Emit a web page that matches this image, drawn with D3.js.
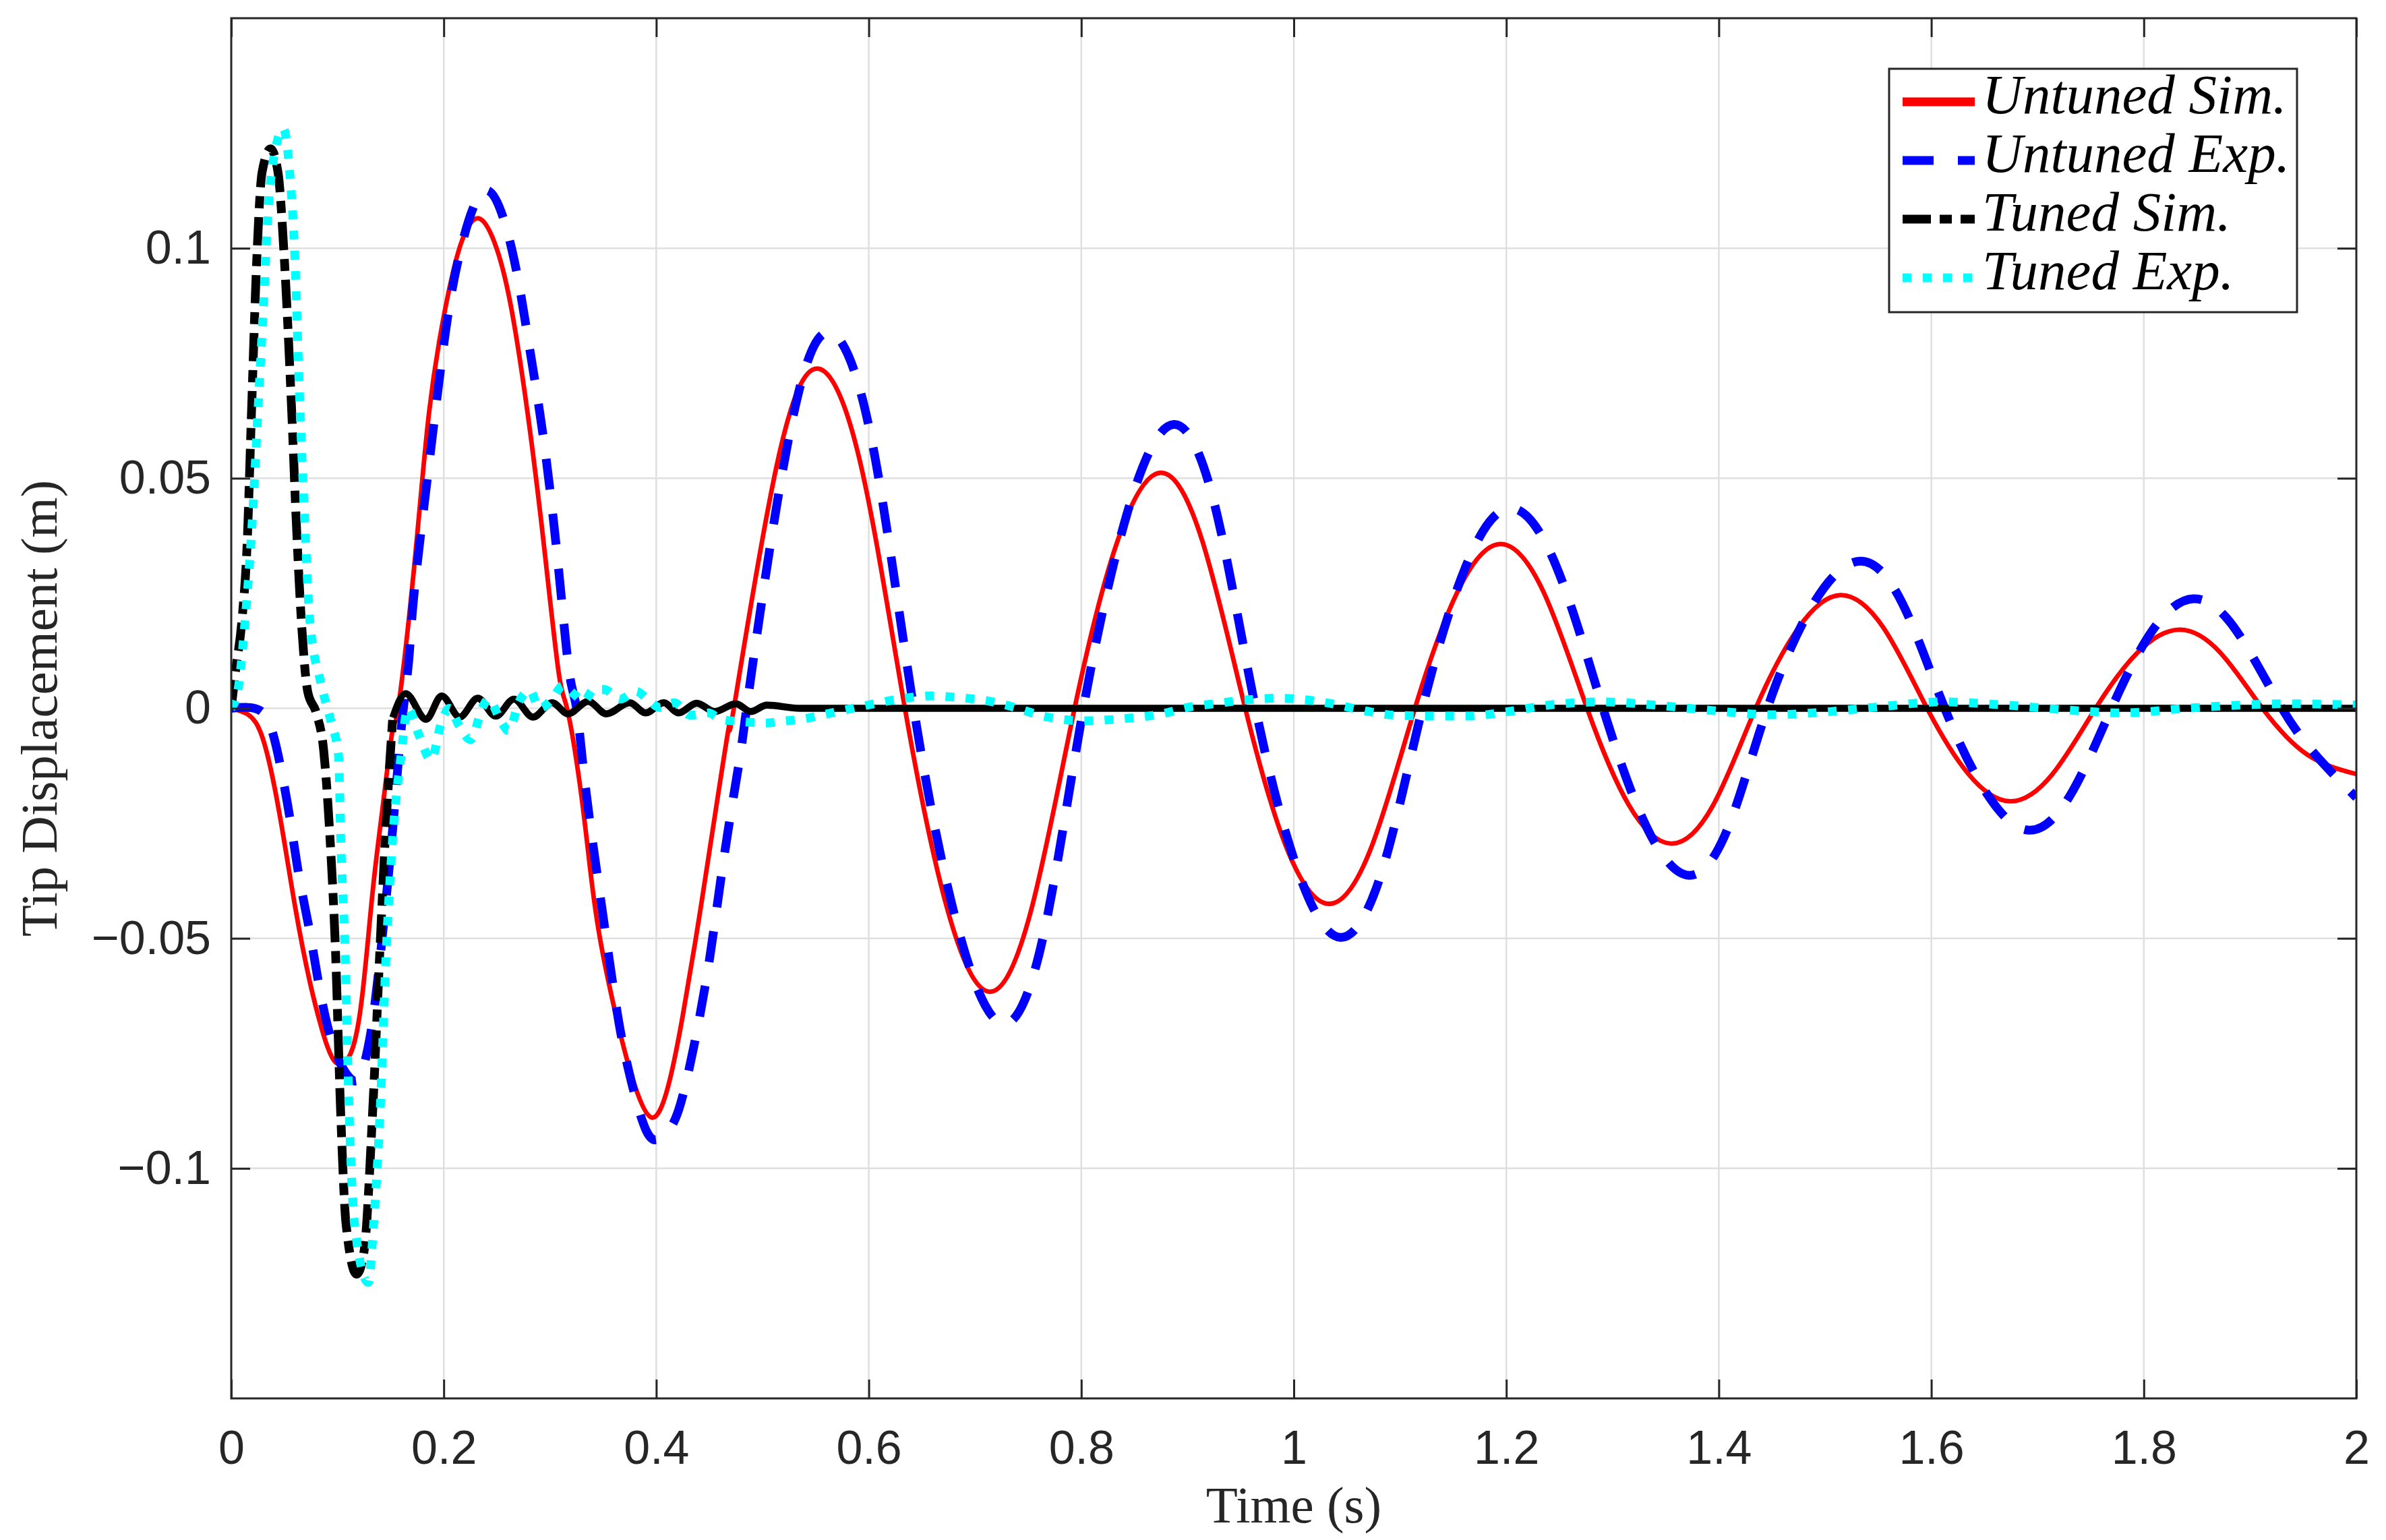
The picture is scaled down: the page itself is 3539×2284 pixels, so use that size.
<!DOCTYPE html>
<html lang="en">
<head>
  <meta charset="utf-8">
  <title>Tip displacement</title>
  <script src="https://cdn.jsdelivr.net/npm/d3@7"></script>
  <style>
    body { margin: 0; background: #fff; }
  </style>
</head>
<body>
<div id="stage"></div>
<script>
  // values (time in s, displacement in m)
  var untunedSimT = [0, 0.016, 0.03, 0.045, 0.06, 0.074, 0.086, 0.098, 0.112, 0.123, 0.133, 0.142, 0.152, 0.157,
    0.172, 0.186, 0.201, 0.216, 0.233, 0.25, 0.264, 0.279, 0.294, 0.308, 0.316, 0.328, 0.3375, 0.347, 0.362, 0.377,
    0.395, 0.411, 0.425, 0.44, 0.455, 0.469, 0.473, 0.513, 0.553, 0.593, 0.634, 0.674, 0.7134, 0.753, 0.7937, 0.834,
    0.8745, 0.914, 0.9543, 0.993, 1.0327, 1.073, 1.114, 1.154, 1.194, 1.235, 1.276, 1.315, 1.355, 1.395, 1.4347,
    1.475, 1.5144, 1.555, 1.596, 1.635, 1.674, 1.714, 1.7546, 1.794, 1.8333, 1.872, 1.9116, 1.954, 2.0];
  var untunedSimY = [0, -0.0014, -0.0068, -0.0224, -0.043, -0.0595, -0.0703, -0.0769, -0.0752, -0.063, -0.040, -0.0224, -0.0044, 0,
    0.0304, 0.064, 0.0864, 0.1009, 0.1065, 0.0998, 0.0864, 0.064, 0.036, 0.008, 0, -0.0164, -0.0344, -0.05, -0.0667, -0.08,
    -0.0889, -0.0823, -0.0667, -0.046, -0.0236, -0.0032, 0, 0.0524, 0.0738, 0.0524, 0, -0.0437, -0.0616, -0.0437, 0, 0.0363,
    0.0512, 0.0363, 0, -0.0302, -0.0425, -0.0302, 0, 0.0253, 0.0357, 0.0253, 0, -0.0209, -0.0294, -0.0209, 0,
    0.0175, 0.0246, 0.0175, 0, -0.0143, -0.0202, -0.0143, 0, 0.0121, 0.0171, 0.0121, 0, -0.0101, -0.0143];

  var untunedExpT = [0, 0.015, 0.03, 0.042, 0.055, 0.064, 0.074, 0.084, 0.0985, 0.116, 0.125, 0.133, 0.142, 0.152, 0.16,
    0.167, 0.172, 0.186, 0.201, 0.216, 0.24, 0.264, 0.279, 0.294, 0.308, 0.318, 0.325, 0.333, 0.347, 0.362, 0.374,
    0.391, 0.406, 0.42, 0.435, 0.45, 0.464, 0.479, 0.485, 0.524, 0.5634, 0.603, 0.6423, 0.685, 0.727, 0.765, 0.802,
    0.845, 0.887, 0.926, 0.964, 1.004, 1.0438, 1.083, 1.121, 1.162, 1.2034, 1.247, 1.291, 1.332, 1.372, 1.409, 1.4457,
    1.489, 1.5329, 1.573, 1.6126, 1.653, 1.6924, 1.731, 1.7696, 1.808, 1.8468, 1.887, 1.93, 1.965, 2.0];
  var untunedExpY = [0, 0.0002, -0.001, -0.008, -0.0236, -0.0368, -0.0487, -0.062, -0.075, -0.081, -0.0775, -0.068, -0.05, -0.026, -0.0044,
    0.0103, 0.0248, 0.0528, 0.0808, 0.0998, 0.1126, 0.0998, 0.0808, 0.0584, 0.0304, 0.008, 0, -0.0164, -0.0404, -0.0643, -0.0787,
    -0.092, -0.093, -0.088, -0.0739, -0.0547, -0.032, -0.0104, 0, 0.058, 0.0817, 0.058, 0, -0.0487, -0.0686, -0.0487, 0,
    0.0438, 0.0617, 0.0438, 0, -0.0354, -0.0498, -0.0354, 0, 0.0309, 0.0435, 0.0309, 0, -0.0258, -0.0363, -0.0258, 0,
    0.0227, 0.032, 0.0227, 0, -0.0188, -0.0265, -0.0188, 0, 0.0169, 0.0238, 0.0169, 0, -0.011, -0.0194];

  var tunedSimT = [0, 0.004, 0.01, 0.015, 0.019, 0.024, 0.029, 0.037, 0.044, 0.05, 0.057, 0.061, 0.066, 0.072, 0.08,
    0.087, 0.093, 0.098, 0.103, 0.108, 0.118, 0.125, 0.133, 0.14, 0.145, 0.152, 0.164, 0.1834, 0.198, 0.215, 0.232,
    0.249, 0.266, 0.284, 0.302, 0.317, 0.336, 0.353, 0.375, 0.39, 0.407, 0.421, 0.438, 0.455, 0.475, 0.489, 0.504,
    0.535, 0.7, 1.0, 1.3, 1.6, 2.0];
  var tunedSimY = [0, 0.008, 0.019, 0.036, 0.064, 0.0975, 0.1165, 0.1216, 0.1165, 0.0975, 0.064, 0.0416, 0.019, 0.0036, -0.001,
    -0.0092, -0.0284, -0.052, -0.088, -0.112, -0.123, -0.118, -0.088, -0.052, -0.028, -0.002, 0.0032, -0.0024, 0.0027, -0.0019, 0.0022,
    -0.0017, 0.002, -0.0019, 0.0012, -0.0012, 0.0015, -0.0012, 0.0012, -0.001, 0.0012, -0.001, 0.0011, -0.0007, 0.001, -0.0007, 0.0007,
    0, 0, 0, 0, 0, 0];
  // past this time the densely sampled black line renders as nearly solid in the original
  var tunedSimDashedUntil = 0.152;

  var tunedExpT = [0, 0.006, 0.013, 0.02, 0.025, 0.03, 0.035, 0.042, 0.049, 0.055, 0.06, 0.064, 0.069, 0.074, 0.084,
    0.094, 0.101, 0.103, 0.107, 0.111, 0.116, 0.129, 0.134, 0.14, 0.146, 0.152, 0.16, 0.166, 0.177, 0.188, 0.198,
    0.205, 0.215, 0.225, 0.237, 0.242, 0.254, 0.261, 0.271, 0.281, 0.29, 0.302, 0.312, 0.322, 0.332, 0.341, 0.351,
    0.366, 0.381, 0.393, 0.403, 0.417, 0.432, 0.449, 0.461, 0.481, 0.503, 0.522, 0.536, 0.561, 0.595, 0.634, 0.658,
    0.682, 0.721, 0.74, 0.764, 0.803, 0.842, 0.876, 0.9, 0.925, 0.959, 0.983, 1.017, 1.036, 1.06, 1.095, 1.134,
    1.163, 1.202, 1.24, 1.29, 1.34, 1.39, 1.45, 1.5, 1.55, 1.61, 1.67, 1.73, 1.78, 1.84, 1.89, 1.94, 2.0];
  var tunedExpY = [0, 0.0036, 0.019, 0.0416, 0.064, 0.086, 0.109, 0.122, 0.126, 0.1166, 0.0975, 0.0696, 0.0416, 0.019, 0.0058,
    -0.003, -0.0104, -0.028, -0.052, -0.088, -0.112, -0.1248, -0.112, -0.088, -0.052, -0.028, -0.010, 0, -0.006, -0.0112, -0.0029,
    0, -0.004, -0.0068, 0.0005, 0.002, -0.0029, -0.0049, 0.0015, 0.0039, 0, 0.002, 0.0049, 0.0032, 0.0015, 0.0041, 0.0041,
    0.002, 0.0037, 0.0017, 0.0002, 0.0012, -0.0015, -0.001, -0.0024, -0.0029, -0.0032, -0.0027, -0.0024, -0.0012, 0.0005, 0.0022, 0.0027,
    0.0024, 0.0012, 0, -0.0017, -0.0027, -0.0022, -0.0012, 0.0002, 0.001, 0.0019, 0.0022, 0.0017, 0.001, -0.0002, -0.0015, -0.0017,
    -0.0017, -0.0007, 0.0007, 0.0014, 0.0007, -0.0004, -0.0014, -0.0008, 0.0003, 0.0014, 0.0007, -0.0004, -0.001, 0, 0.0007, 0.001, 0.0007];

  var xTicks = [0, 0.2, 0.4, 0.6, 0.8, 1, 1.2, 1.4, 1.6, 1.8, 2];
  var xTickLabels = ["0", "0.2", "0.4", "0.6", "0.8", "1", "1.2", "1.4", "1.6", "1.8", "2"];
  var yTicks = [-0.1, -0.05, 0, 0.05, 0.1];
  var yTickLabels = ["\u22120.1", "\u22120.05", "0", "0.05", "0.1"];
  var seriesNames = ["Untuned Sim.", "Untuned Exp.", "Tuned Sim.", "Tuned Exp."];

  var W = 3539, H = 2284;
  var plotL = 343, plotR = 3495, plotT = 27, plotB = 2074;
  var axisColor = "#262626";

  var svg = d3.select("#stage").append("svg")
    .attr("width", W).attr("height", H)
    .style("display", "block");

  var x = d3.scaleLinear().domain([0, 2]).range([plotL, plotR]);
  var y = d3.scaleLinear().domain([-0.15, 0.15]).range([plotB, plotT]);

  // grid
  var grid = svg.append("g").attr("stroke", "#dfdfdf").attr("stroke-width", 2.5);
  grid.selectAll(".gx").data(xTicks.slice(1, -1)).enter().append("line")
    .attr("x1", d => x(d)).attr("x2", d => x(d)).attr("y1", plotT).attr("y2", plotB);
  grid.selectAll(".gy").data(yTicks).enter().append("line")
    .attr("y1", d => y(d)).attr("y2", d => y(d)).attr("x1", plotL).attr("x2", plotR);

  // lines
  svg.append("clipPath").attr("id", "plotclip").append("rect")
    .attr("x", plotL).attr("y", plotT).attr("width", plotR - plotL).attr("height", plotB - plotT);

  // smooth responses get a natural spline, the sharp tuned ones a monotone one
  var series = [
    { name: seriesNames[0], t: untunedSimT, v: untunedSimY, color: "#ff0000", width: 8.5, dash: null, curve: d3.curveNatural },
    { name: seriesNames[1], t: untunedExpT, v: untunedExpY, color: "#0000ff", width: 13, dash: "46,36", curve: d3.curveNatural },
    { name: seriesNames[2], t: tunedSimT, v: tunedSimY, color: "#000000", width: 13, dash: "42,13,18,13", curve: d3.curveMonotoneX,
      solidFrom: tunedSimDashedUntil },
    { name: seriesNames[3], t: tunedExpT, v: tunedExpY, color: "#00ffff", width: 13, dash: "13,17", curve: d3.curveMonotoneX }
  ];

  var plot = svg.append("g").attr("clip-path", "url(#plotclip)");
  series.forEach(function (s) {
    var pts = s.t.map((t, i) => [t, s.v[i]]);
    var line = d3.line()
      .x(d => x(d[0]))
      .y(d => y(d[1]))
      .curve(s.curve);
    var parts = [{ pts: pts, dash: s.dash }];
    if (s.solidFrom != null) {
      parts = [
        { pts: pts.filter(p => p[0] <= s.solidFrom), dash: s.dash },
        { pts: pts.filter(p => p[0] >= s.solidFrom), dash: null }
      ];
    }
    parts.forEach(function (p) {
      plot.append("path")
        .datum(p.pts)
        .attr("d", line)
        .attr("fill", "none")
        .attr("stroke", s.color)
        .attr("stroke-width", p.dash ? s.width : s.width * 0.8)
        .attr("stroke-linejoin", "round")
        .attr("stroke-dasharray", p.dash);
    });
  });

  // axes (ticks inward, box on)
  var tickLen = 28;
  var xAxis = d3.axisBottom(x).tickValues(xTicks).tickSize(-tickLen).tickPadding(47)
    .tickFormat((d, i) => xTickLabels[i]);
  var yAxis = d3.axisLeft(y).tickValues(yTicks).tickSize(-tickLen).tickPadding(30)
    .tickFormat((d, i) => yTickLabels[i]);
  var xTop = d3.axisTop(x).tickValues(xTicks).tickSize(-tickLen).tickFormat("");
  var yRight = d3.axisRight(y).tickValues(yTicks).tickSize(-tickLen).tickFormat("");

  function styleAxis(g) {
    g.select(".domain").remove();
    g.selectAll("line").attr("stroke", axisColor).attr("stroke-width", 3);
    g.selectAll("text")
      .attr("fill", axisColor)
      .style("font-family", "'Liberation Sans', Arial, sans-serif")
      .style("font-size", "70px");
  }

  svg.append("g").attr("transform", "translate(0," + plotB + ")").call(xAxis).call(styleAxis);
  svg.append("g").attr("transform", "translate(" + plotL + ",0)").call(yAxis).call(styleAxis);
  svg.append("g").attr("transform", "translate(0," + plotT + ")").call(xTop).call(styleAxis);
  svg.append("g").attr("transform", "translate(" + plotR + ",0)").call(yRight).call(styleAxis);

  svg.append("rect")
    .attr("x", plotL).attr("y", plotT).attr("width", plotR - plotL).attr("height", plotB - plotT)
    .attr("fill", "none").attr("stroke", axisColor).attr("stroke-width", 3);

  // axis labels
  svg.append("text")
    .attr("x", (plotL + plotR) / 2).attr("y", 2258)
    .attr("text-anchor", "middle")
    .style("font-family", "'Liberation Serif', 'Times New Roman', serif")
    .style("font-size", "77px")
    .attr("fill", axisColor)
    .text("Time (s)");

  svg.append("text")
    .attr("transform", "translate(84," + ((plotT + plotB) / 2) + ") rotate(-90)")
    .attr("text-anchor", "middle")
    .style("font-family", "'Liberation Serif', 'Times New Roman', serif")
    .style("font-size", "77px")
    .attr("fill", axisColor)
    .text("Tip Displacement (m)");

  // legend
  var lg = svg.append("g");
  lg.append("rect")
    .attr("x", 2802).attr("y", 102).attr("width", 605).attr("height", 361)
    .attr("fill", "#fff").attr("stroke", axisColor).attr("stroke-width", 3);
  var rowY = d3.scalePoint().domain(seriesNames).range([151, 412]);
  series.forEach(function (s) {
    lg.append("line")
      .attr("x1", 2822).attr("x2", 2929)
      .attr("y1", rowY(s.name)).attr("y2", rowY(s.name))
      .attr("stroke", s.color).attr("stroke-width", 13)
      .attr("stroke-dasharray", s.dash);
    lg.append("text")
      .attr("x", 2940).attr("y", rowY(s.name) + 17)
      .style("font-family", "'Liberation Serif', 'Times New Roman', serif")
      .style("font-style", "italic")
      .style("font-size", "83px")
      .attr("fill", "#000")
      .text(s.name);
  });
</script>
</body>
</html>
